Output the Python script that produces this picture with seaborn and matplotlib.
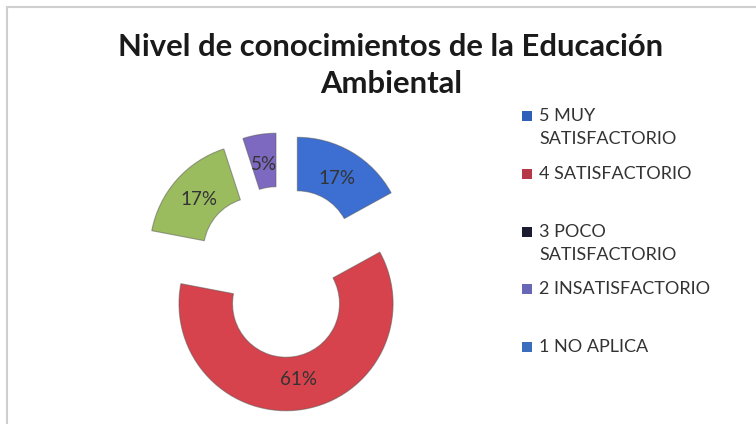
import matplotlib
matplotlib.use("Agg")
import matplotlib.pyplot as plt
from matplotlib.patches import Rectangle
import seaborn as sns

# Data
categories = ["5 MUY SATISFACTORIO", "4 SATISFACTORIO", "3 POCO SATISFACTORIO",
              "2 INSATISFACTORIO", "1 NO APLICA"]
values = [17, 61, 17, 5, 0]
slice_colors = ["#3d6fd2", "#d6434c", "#9bbb5f", "#7d69c0", "#4bacc6"]
legend_labels = ["5 MUY\nSATISFACTORIO", "4 SATISFACTORIO", "3 POCO\nSATISFACTORIO",
                 "2 INSATISFACTORIO", "1 NO APLICA"]
legend_colors = ["#2f5fb8", "#b63848", "#1c1c30", "#6767b5", "#3a6ebd"]
title = "Nivel de conocimientos de la Educación\nAmbiental"

sns.set_style("white")
plt.rcParams["font.family"] = ["Lato", "DejaVu Sans"]

W, H = 756, 424
fig = plt.figure(figsize=(W / 100, H / 100), dpi=100)

# chart frame (runs off right/bottom edges)
fig.patches.append(Rectangle((7 / W, -0.1), 1.2, 1 - 7 / H + 0.1, transform=fig.transFigure,
                             fill=False, edgecolor="#cfcfcf", linewidth=1.5))

# donut, 1 unit = 107 px
side = 289
cx, cy = 281, 272
ax = fig.add_axes([(cx - side / 2) / W, (H - cy - side / 2) / H, side / W, side / H])

shown = [(v, c) for v, c in zip(values, slice_colors) if v > 0]
vals = [v for v, _ in shown]
cols = [c for _, c in shown]
wedges, texts, autotexts = ax.pie(
    vals, colors=cols, startangle=90, counterclock=False,
    explode=[0.3] * len(vals), radius=1.0,
    wedgeprops=dict(width=0.5, edgecolor="#55555580", linewidth=0.8),
    autopct=lambda p: f"{p:.0f}%", pctdistance=0.72,
    textprops=dict(fontsize=13.5, color="#333333"))
ax.set_xlim(-1.35, 1.35)
ax.set_ylim(-1.35, 1.35)
ax.set_aspect("equal")
ax.axis("off")

# title
fig.text(391 / W, 1 - 33 / H, title, ha="center", va="top",
         fontsize=22.3, fontweight="bold", color="#1a1a1a", linespacing=1.39)

# legend
for i, (lab, col) in enumerate(zip(legend_labels, legend_colors)):
    base = 122 + 57.8 * i
    fig.patches.append(Rectangle((522 / W, 1 - (base - 1) / H), 10 / W, 10 / H,
                                 transform=fig.transFigure, facecolor=col, edgecolor="none"))
    fig.text(539 / W, 1 - (base - 14) / H, lab, ha="left", va="top",
             fontsize=13, color="#333333", linespacing=1.55)

fig.savefig("out.png", dpi=100)
